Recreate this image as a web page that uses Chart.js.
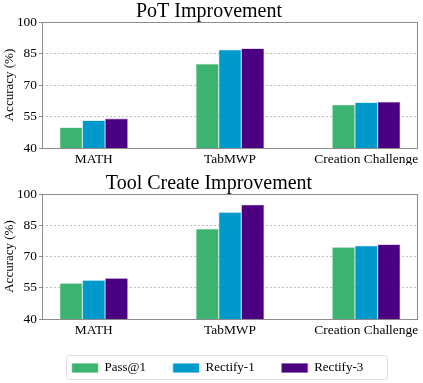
<!DOCTYPE html>
<html><head><meta charset="utf-8">
<script src="https://cdn.jsdelivr.net/npm/chart.js@4"></script>
<style>
html,body{margin:0;padding:0;background:#fff;}
#w1{position:absolute;left:0;top:0;width:423px;height:165px;}
#w2{position:absolute;left:0;top:165px;width:423px;height:218px;}
</style></head><body>
<div id="w1"><canvas id="c1"></canvas></div>
<div id="w2"><canvas id="c2"></canvas></div>
<script>
const categories = ["MATH", "TabMWP", "Creation Challenge"];
const seriesNames = ["Pass@1", "Rectify-1", "Rectify-3"];
const potPass1 = [49.8, 80.1, 60.6];
const potRectify1 = [53.1, 86.8, 61.7];
const potRectify3 = [54.0, 87.4, 62.0];
const toolPass1 = [57.2, 83.3, 74.5];
const toolRectify1 = [58.6, 91.2, 75.2];
const toolRectify3 = [59.6, 94.9, 75.8];
const yTicks = [40, 55, 70, 85, 100];

const colors = ["#3CB371", "#0099CC", "#4B0082"];
const edgeColors = ["#7fd2a0", "#66c2e6", "#8a5cb8"];
const FONT = "'Liberation Serif', 'Times New Roman', serif";
const LEG_PAD = 27;

const boxPlugin = {
  id: 'box',
  afterUpdate(chart) {
    const lg = chart.legend;
    if (lg && lg.options.display && lg.legendHitBoxes && lg.legendHitBoxes.length) {
      const d = 72 - lg.legendHitBoxes[0].left;
      lg.left += d; lg.right += d;
      lg.legendHitBoxes.forEach(h => { h.left += d; });
      const dy = (196.5 - LEG_PAD) - lg.top;
      lg.top += dy;
      lg.bottom = chart.height;
      lg.height = lg.bottom - lg.top;
      lg.legendHitBoxes.forEach(h => { h.top += dy; });
    }
  },
  afterDraw(chart) {
    const a = chart.chartArea, ctx = chart.ctx;
    ctx.save();
    ctx.strokeStyle = '#8c8c8c';
    ctx.lineWidth = 1;
    ctx.strokeRect(Math.round(a.left) + 0.5, Math.round(a.top) + 0.5,
      Math.round(a.right - a.left) - 1, Math.round(a.bottom - a.top));
    ctx.restore();
    const lg = chart.legend;
    if (lg && lg.options.display) {
      ctx.save();
      ctx.strokeStyle = '#dddddd';
      ctx.lineWidth = 1;
      const x0 = 66.5, x1 = 387.5, y0 = 190.5, y1 = 214.5, r = 3;
      ctx.beginPath();
      ctx.moveTo(x0 + r, y0);
      ctx.arcTo(x1, y0, x1, y1, r);
      ctx.arcTo(x1, y1, x0, y1, r);
      ctx.arcTo(x0, y1, x0, y0, r);
      ctx.arcTo(x0, y0, x1, y0, r);
      ctx.closePath();
      ctx.stroke();
      ctx.restore();
    }
  }
};

function makeChart(id, title, s1, s2, s3, opts) {
  const vals = [s1, s2, s3];
  return new Chart(document.getElementById(id), {
    type: 'bar',
    data: {
      datasets: seriesNames.map((n, i) => ({
        label: n,
        data: vals[i].map((v, j) => ({x: j, y: v})),
        backgroundColor: colors[i],
        borderColor: edgeColors[i],
        borderWidth: 0.6,
        categoryPercentage: 0.5,
        barPercentage: 1.0
      }))
    },
    options: {
      responsive: true,
      maintainAspectRatio: false,
      animation: false,
      layout: {padding: {left: 0, right: 5, top: 0, bottom: 0}},
      plugins: {
        title: {
          display: true, text: title, color: '#000',
          font: {family: FONT, size: 20, weight: 'normal', lineHeight: 1.0},
          padding: {top: opts.titleTop, bottom: opts.titleBottom}
        },
        legend: {
          display: opts.legend,
          position: 'bottom',
          labels: {
            boxWidth: 26, boxHeight: 9, padding: LEG_PAD,
            color: '#000',
            font: {family: FONT, size: 13}
          }
        },
        tooltip: {enabled: false}
      },
      scales: {
        x: {
          type: 'linear',
          min: -0.38, max: 2.38,
          offset: false,
          grid: {display: false, drawTicks: false},
          border: {display: false},
          afterBuildTicks(s) { s.ticks = categories.map((c, i) => ({value: i})); },
          afterFit(s) { s.height = opts.xHeight; },
          ticks: {
            autoSkip: false, maxRotation: 0, padding: 3, color: '#000',
            font: {family: FONT, size: 13.4},
            callback: (v) => categories[v]
          }
        },
        y: {
          min: 40, max: 100,
          z: 1,
          afterBuildTicks(s) { s.ticks = yTicks.map(v => ({value: v})); },
          afterFit(s) { s.width = 42; },
          grid: {color: '#c0c0c0', lineWidth: 1, tickLength: 3, tickColor: '#8c8c8c', tickBorderDash: []},
          border: {display: false, dash: [2, 2]},
          title: {display: true, text: 'Accuracy (%)', color: '#000', font: {family: FONT, size: 13}, padding: {top: 2, bottom: 0}},
          ticks: {color: '#000', padding: 2, font: {family: FONT, size: 13.4}}
        }
      }
    },
    plugins: [boxPlugin]
  });
}

makeChart('c1', 'PoT Improvement', potPass1, potRectify1, potRectify3,
  {titleTop: 2, titleBottom: 0, legend: false, xHeight: 17});
const chart2 = makeChart('c2', 'Tool Create Improvement', toolPass1, toolRectify1, toolRectify3,
  {titleTop: 9, titleBottom: 0, legend: true, xHeight: 31});
const lg2 = chart2.legend;
const origFit = lg2.fit.bind(lg2);
lg2.fit = function () { origFit(); this.height = 33; };
chart2.update();
</script>
</body></html>
